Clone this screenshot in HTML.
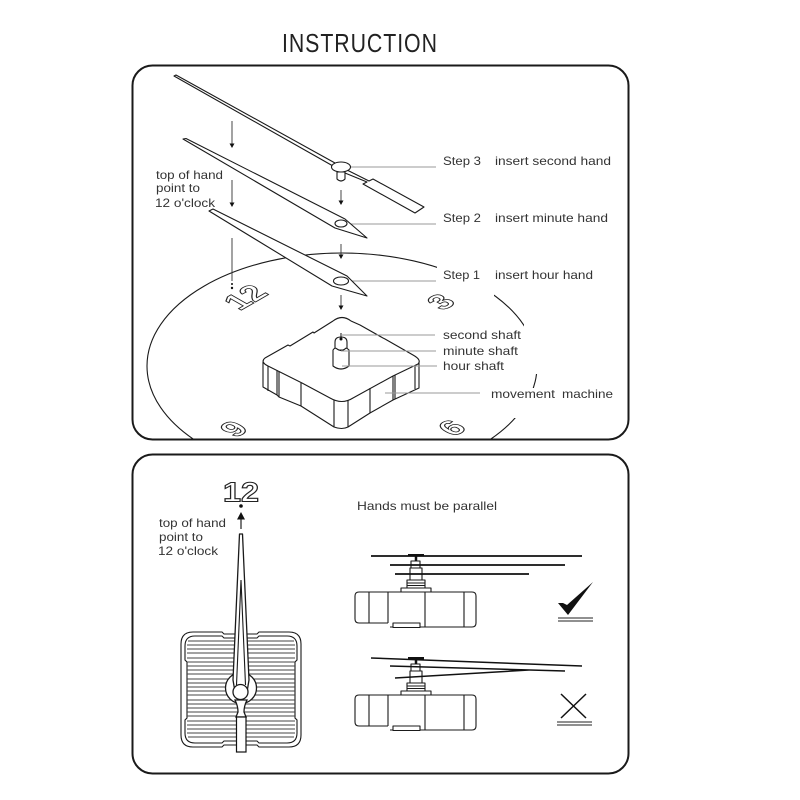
<!DOCTYPE html>
<html><head><meta charset="utf-8"><style>
html,body{margin:0;padding:0;background:#fff}
svg{display:block}
text{font-family:"Liberation Sans",Arial,sans-serif;font-size:12px;fill:#333}
.o{font-weight:bold;fill:#fff;stroke:#222;stroke-width:1}
.g{stroke:#999;stroke-width:1;fill:none}
.k{stroke:#1a1a1a;stroke-width:1.100;fill:#fff;stroke-linejoin:round}
.n{stroke:#1a1a1a;stroke-width:1.100;fill:none}
.a{stroke:#333;stroke-width:.9;fill:none}
</style></head><body>
<svg width="800" height="800" viewBox="0 0 800 800" xmlns="http://www.w3.org/2000/svg">
<defs>
<g id="ar"><path d="M-2.500,-4.500 L2.500,-4.500 L0,0 Z" fill="#111"/></g>
<clipPath id="arcs">
<rect x="100" y="200" width="337" height="239"/>
<rect x="494" y="290" width="30" height="38"/>
<rect x="525" y="374" width="15" height="14"/>
<rect x="490" y="418" width="26" height="21"/>
</clipPath>
<g id="mach">
<path class="n" d="M388,623 H359 Q355,623 355,619 V596 Q355,592 359,592 H472 Q476,592 476,596 V623 Q476,627 472,627 H390"/>
<path class="n" d="M369,592 V623 M388,592 V623 M425,592 V627 M464,592 V627"/>
<rect class="k" x="393" y="623" width="27" height="4.500"/>
<path class="k" d="M401,592 V588 H431 V592 Z"/>
<path class="k" d="M407,588 V580 H425 V588 Z"/>
<path class="n" d="M407,583 H425 M407,585.500 H425"/>
<path class="k" d="M410,580 V568 H422 V580 Z"/>
<path class="k" d="M411,568 V561 H420 V568 Z"/>
<path d="M416,561 V556" stroke="#111" stroke-width="2.500"/>
<rect x="408" y="554" width="16" height="2.500" fill="#111"/>
</g>
</defs>

<text transform="translate(282,52) scale(.82,1)" style="font-size:26px;fill:#222" textLength="189" lengthAdjust="spacing">INSTRUCTION</text>

<rect x="132.500" y="65.500" width="496" height="374" rx="20" fill="#fff" stroke="#1a1a1a" stroke-width="2"/>
<rect x="132.500" y="454.500" width="496" height="319" rx="20" fill="#fff" stroke="#1a1a1a" stroke-width="2"/>

<!-- clock face -->
<ellipse class="n" cx="342" cy="366" rx="195" ry="113" clip-path="url(#arcs)"/>

<!-- numerals -->
<text class="o" transform="matrix(.87,-.5,.87,.5,245,297)" text-anchor="middle" y="11" style="font-size:31px">12</text>
<text class="o" transform="matrix(.87,-.5,.87,.5,441,302)" text-anchor="middle" y="10" style="font-size:30px">3</text>
<text class="o" transform="matrix(.87,-.5,.87,.5,234,429)" text-anchor="middle" y="10" style="font-size:30px">9</text>
<text class="o" transform="matrix(.87,-.5,.87,.5,452,428)" text-anchor="middle" y="10" style="font-size:30px">6</text>

<!-- leaders to hands -->
<path class="g" d="M350,167 H436 M348,224 H436 M349,281 H436"/>

<!-- second hand -->
<path class="k" d="M174,76 L176,75 L335,163 L349,171 L369,181 L373,179 L424,207 L415,213 L363,184 L367,182 L345,173 L333,166 Z"/>
<path class="k" d="M337,172 H345 V179 Q341,183 337,179 Z"/>
<ellipse class="k" cx="341" cy="167" rx="9.500" ry="5"/>

<!-- minute hand -->
<path class="k" d="M183,139 L186,138.500 L345,219 L367,238 L335,228 Z"/>
<ellipse class="k" cx="341" cy="223.500" rx="6" ry="3.500"/>

<!-- hour hand -->
<path class="k" d="M209,211 L213,209 L347,276 L367,296 L332,286 Z"/>
<ellipse class="k" cx="341" cy="281" rx="7.500" ry="4"/>

<!-- arrows -->
<path class="a" d="M232,121 V145 M232,180 V204 M232,238 V281 M341,190 V202 M341,244 V256 M341,295 V307"/>
<use href="#ar" x="232" y="148"/><use href="#ar" x="232" y="207"/>
<circle cx="232" cy="284" r="1" fill="#111"/><circle cx="232" cy="288" r="1.200" fill="#111"/>
<use href="#ar" x="341" y="205"/><use href="#ar" x="341" y="259"/><use href="#ar" x="341" y="310"/>

<!-- movement top panel -->
<path class="k" d="M263,362 V387 L277,395 L279,397 L301,406 L334,427 Q342,430 348,427 L370,413 L393,400 L419,388 V362 Z"/>
<path class="k" d="M265,358 L288,345 L290,346 L313,332 L314,333 L333,321 Q342,314 351,321 L360,325 L383,338 L385,339 L413,355 Q422,360 418,364 L393,376 L353,398 Q342,405 330,398 L302,383 L268,366 Q260,362 265,358 Z"/>
<path class="n" d="M268,366 V391 M277,370 V395 M279,371 V397 M301,383 V406 M334,400 V427 M348,400 V427 M370,388 V413 M393,376 V400 M395,375 V399 M415,366 V389"/>
<!-- shaft -->
<path class="k" d="M335,350 V342 Q335,337 341,337 Q347,337 347,342 V350 Z"/>
<path class="k" d="M333,350 V366 Q341,372 349,366 V350 Q346,347 345,349 Q341,352 337,349 Q335,347 333,350 Z"/>
<path d="M341,333 V339" stroke="#111" stroke-width="1"/><circle cx="341" cy="339" r="1.500" fill="#111"/>

<!-- leaders to movement -->
<path class="g" d="M341,335 H435 M341,351 H436 M342,366 H437 M385,393 H480"/>

<!-- labels -->
<text x="156" y="179" textLength="67" lengthAdjust="spacingAndGlyphs">top of hand</text>
<text x="156" y="192" textLength="44" lengthAdjust="spacingAndGlyphs">point to</text>
<text x="155" y="207" textLength="60" lengthAdjust="spacingAndGlyphs">12 o'clock</text>
<text x="443" y="165" textLength="38" lengthAdjust="spacingAndGlyphs">Step 3</text><text x="495" y="165" textLength="116" lengthAdjust="spacingAndGlyphs">insert second hand</text>
<text x="443" y="222" textLength="38" lengthAdjust="spacingAndGlyphs">Step 2</text><text x="495" y="222" textLength="113" lengthAdjust="spacingAndGlyphs">insert minute hand</text>
<text x="443" y="279" textLength="37" lengthAdjust="spacingAndGlyphs">Step 1</text><text x="495" y="279" textLength="98" lengthAdjust="spacingAndGlyphs">insert hour hand</text>
<text x="443" y="339" textLength="78" lengthAdjust="spacingAndGlyphs">second shaft</text>
<text x="443" y="355" textLength="75" lengthAdjust="spacingAndGlyphs">minute shaft</text>
<text x="443" y="370" textLength="61" lengthAdjust="spacingAndGlyphs">hour shaft</text>
<text x="491" y="398" textLength="64" lengthAdjust="spacingAndGlyphs">movement</text><text x="562" y="398" textLength="51" lengthAdjust="spacingAndGlyphs">machine</text>

<!-- panel 2 left -->
<text class="o" x="223" y="501.500" style="font-size:28px;stroke-width:1.100" textLength="36" lengthAdjust="spacingAndGlyphs">12</text>
<circle cx="241" cy="506" r="1.800" fill="#111"/>
<path d="M241,529 V518" stroke="#222" stroke-width="1.200"/><path d="M237,519.500 L241,512 L245,519.500 Z" fill="#111"/>
<text x="159" y="527" textLength="67" lengthAdjust="spacingAndGlyphs">top of hand</text>
<text x="159" y="541" textLength="44" lengthAdjust="spacingAndGlyphs">point to</text>
<text x="158" y="555" textLength="60" lengthAdjust="spacingAndGlyphs">12 o'clock</text>

<path class="n" d="M193,632 H222 L224,634 H257 L259,632 H289 Q301,632 301,644 V735 Q301,747 289,747 H259 L257,745 H224 L222,747 H193 Q181,747 181,735 V644 Q181,632 193,632 Z"/>
<path class="n" d="M195,636 H222 L224,638 H257 L259,636 H287 Q297,636 297,646 V660 L295,662 V718 L297,720 V733 Q297,743 287,743 H259 L257,741 H224 L222,743 H195 Q185,743 185,733 V720 L187,718 V662 L185,660 V646 Q185,636 195,636 Z"/>
<path stroke="#444" stroke-width="1.100" fill="none" d="M188,641 H294 M187,645 H295 M187,649 H295 M187,653 H295 M187,658 H295 M187,662 H295 M187,666 H295 M187,670 H295 M187,674 H295 M187,679 H295 M187,683 H295 M187,687 H295 M187,691 H295 M187,695 H295 M187,700 H295 M187,704 H295 M187,708 H295 M187,712 H295 M187,716 H295 M187,721 H295 M187,725 H295 M187,729 H295 M187,733 H295 M188,737 H294"/>
<circle cx="241" cy="688" r="15.500" fill="#fff" stroke="#1a1a1a" stroke-width="1.300"/>
<path d="M235,700 Q238,706 238,712 L236,717 H246 L244,712 Q244,706 247,700 Z" fill="#fff" stroke="#1a1a1a" stroke-width="1.300"/>
<rect x="236.500" y="717" width="9.500" height="35" fill="#fff" stroke="#111" stroke-width="1.200"/>
<path class="k" d="M239.500,534 H242.500 L249,680 L247,692 H235 L233,680 Z" style="stroke-width:1.300"/>
<path class="n" d="M241,580 L236.500,685 M241,580 L245.500,685"/>
<circle cx="240.500" cy="692" r="7.500" fill="#fff" stroke="#1a1a1a" stroke-width="1.300"/>

<!-- panel 2 right -->
<text x="357" y="510" textLength="140" lengthAdjust="spacingAndGlyphs">Hands must be parallel</text>
<use href="#mach"/>
<path d="M371,556 H582 M390,565 H565 M395,574 H529" stroke="#111" stroke-width="1.700"/>
<path d="M558,603 L568,615 L593,582 L567,605 L563,603 Z" fill="#111"/>
<path d="M558,618 H593 M558,621 H593" stroke="#222" stroke-width="1"/>

<use href="#mach" y="103"/>
<path d="M371,658 L582,666 M390,666 L565,671 M395,678 L529,670" stroke="#111" stroke-width="1.500"/>
<path d="M561,694 L586,718 M586,694 L561,718" stroke="#111" stroke-width="1.500"/>
<path d="M557,722 H592 M557,725 H592" stroke="#222" stroke-width="1"/>
</svg>
</body></html>
